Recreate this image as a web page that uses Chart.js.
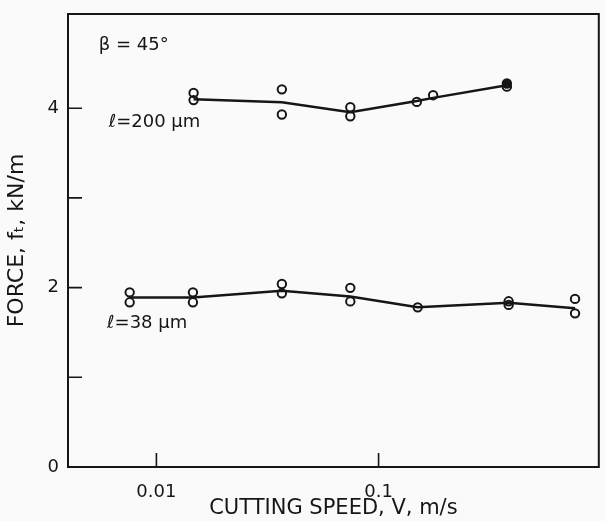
<!DOCTYPE html>
<html>
<head>
<meta charset="utf-8">
<script src="https://cdn.jsdelivr.net/npm/chart.js@4"></script>
<style>
  html, body { margin: 0; padding: 0; background: #f9faf9; }
  #wrap { width: 605px; height: 521px; }
</style>
</head>
<body>
<div id="wrap"><canvas id="forceChart"></canvas></div>
<script>
// measured points, l = 200 um
const speeds200 = [0.0147, 0.0147, 0.0367, 0.0367, 0.0746, 0.0746, 0.1486, 0.176, 0.378, 0.378];
const force200 = [4.17, 4.09, 4.21, 3.93, 4.01, 3.91, 4.07, 4.145, 4.275, 4.24];
// drawn trend line, l = 200 um
const lineSpeeds200 = [0.0147, 0.0367, 0.0746, 0.1486, 0.176, 0.378];
const lineForce200 = [4.10, 4.065, 3.955, 4.08, 4.115, 4.255];

// measured points, l = 38 um
const speeds38 = [0.00758, 0.00758, 0.0146, 0.0146, 0.0367, 0.0367, 0.0746, 0.0746, 0.150, 0.385, 0.385, 0.766, 0.766];
const force38 = [1.947, 1.836, 1.947, 1.836, 2.04, 1.936, 1.997, 1.846, 1.78, 1.847, 1.807, 1.874, 1.713];
// drawn trend line, l = 38 um
const lineSpeeds38 = [0.00758, 0.0146, 0.0367, 0.0746, 0.150, 0.385, 0.766];
const lineForce38 = [1.89, 1.89, 1.966, 1.90, 1.78, 1.83, 1.77];

// axis ticks
const xTickValues = [0.01, 0.1];
const xTickLabels = ["0.01", "0.1"];
const yTickValues = [0, 1, 2, 3, 4];
const yTickLabels = ["0", "", "2", "", "4"];

// text inside the plot
const notes = [
    { text: "\u03B2 = 45\u00B0", x: 0.0055, y: 4.70 },
    { text: "\u2113=200 \u03BCm", x: 0.0061, y: 3.84 },
    { text: "\u2113=38 \u03BCm", x: 0.0060, y: 1.60 }
];

const ink = "#161616";
const font = "'DejaVu Sans', sans-serif";

function toPoints(xs, ys) {
    return xs.map((x, i) => ({ x: x, y: ys[i] }));
}

// box, inward ticks and notes
const framePlugin = {
    id: "frame",
    afterDraw(chart) {
        const ctx = chart.ctx;
        const area = chart.chartArea;
        const xs = chart.scales.x;
        const ys = chart.scales.y;
        ctx.save();
        ctx.strokeStyle = ink;
        ctx.lineWidth = 2;
        ctx.strokeRect(area.left, area.top, area.right - area.left, area.bottom - area.top);

        ctx.lineWidth = 1.6;
        ctx.beginPath();
        xTickValues.forEach((v) => {
            const px = xs.getPixelForValue(v);
            ctx.moveTo(px, area.bottom);
            ctx.lineTo(px, area.bottom - 14);
        });
        yTickValues.forEach((v) => {
            if (v === 0) return;
            const py = ys.getPixelForValue(v);
            ctx.moveTo(area.left, py);
            ctx.lineTo(area.left + 14, py);
        });
        ctx.stroke();

        ctx.fillStyle = ink;
        ctx.font = "18px " + font;
        ctx.textBaseline = "middle";
        ctx.textAlign = "left";
        notes.forEach((n) => {
            ctx.fillText(n.text, xs.getPixelForValue(n.x), ys.getPixelForValue(n.y));
        });
        ctx.restore();
    }
};

const pointStyle = {
    showLine: false,
    pointRadius: 4.2,
    pointHoverRadius: 4.2,
    pointBorderWidth: 2,
    pointBorderColor: ink,
    pointBackgroundColor: "rgba(0,0,0,0)"
};

const lineStyle = {
    showLine: true,
    borderColor: ink,
    borderWidth: 2.5,
    pointRadius: 0,
    tension: 0
};

new Chart(document.getElementById("forceChart"), {
    type: "scatter",
    data: {
        datasets: [
            Object.assign({ label: "l=200 line", data: toPoints(lineSpeeds200, lineForce200) }, lineStyle),
            Object.assign({ label: "l=38 line", data: toPoints(lineSpeeds38, lineForce38) }, lineStyle),
            Object.assign({ label: "l=200", data: toPoints(speeds200, force200) }, pointStyle,
                { pointBackgroundColor: (c) => c.dataIndex === 8 ? ink : "rgba(0,0,0,0)" }),
            Object.assign({ label: "l=38", data: toPoints(speeds38, force38) }, pointStyle)
        ]
    },
    options: {
        responsive: true,
        maintainAspectRatio: false,
        animation: false,
        layout: { padding: { top: 14, right: 1, left: 0, bottom: 0 } },
        plugins: {
            legend: { display: false },
            tooltip: { enabled: false }
        },
        scales: {
            x: {
                type: "logarithmic",
                min: 0.004,
                max: 0.98,
                afterBuildTicks: (scale) => {
                    scale.ticks = xTickValues.map((v) => ({ value: v }));
                },
                afterFit: (scale) => {
                    scale.height = 54;
                    scale.paddingLeft = 0;
                    scale.paddingRight = 0;
                },
                grid: { display: false, drawTicks: false },
                border: { display: false },
                ticks: {
                    autoSkip: false,
                    maxRotation: 0,
                    padding: 15,
                    color: ink,
                    font: { family: font, size: 18 },
                    callback: (v) => {
                        const i = xTickValues.indexOf(v);
                        return i >= 0 ? xTickLabels[i] : "";
                    }
                },
                title: {
                    display: true,
                    text: "CUTTING SPEED, V, m/s",
                    color: ink,
                    font: { family: font, size: 21 },
                    padding: { top: 0, bottom: 0 }
                }
            },
            y: {
                min: 0,
                max: 5.05,
                afterBuildTicks: (scale) => {
                    scale.ticks = yTickValues.map((v) => ({ value: v }));
                },
                afterFit: (scale) => {
                    scale.width = 68;
                    scale.paddingTop = 0;
                    scale.paddingBottom = 0;
                },
                grid: { display: false, drawTicks: false },
                border: { display: false },
                ticks: {
                    autoSkip: false,
                    padding: 9,
                    color: ink,
                    font: { family: font, size: 18 },
                    callback: (v) => {
                        const i = yTickValues.indexOf(v);
                        return i >= 0 ? yTickLabels[i] : "";
                    }
                },
                title: {
                    display: true,
                    text: "FORCE, f\u209C, kN/m",
                    color: ink,
                    font: { family: font, size: 22 },
                    padding: { top: 4, bottom: 0 }
                }
            }
        }
    },
    plugins: [framePlugin]
});
</script>
</body>
</html>
